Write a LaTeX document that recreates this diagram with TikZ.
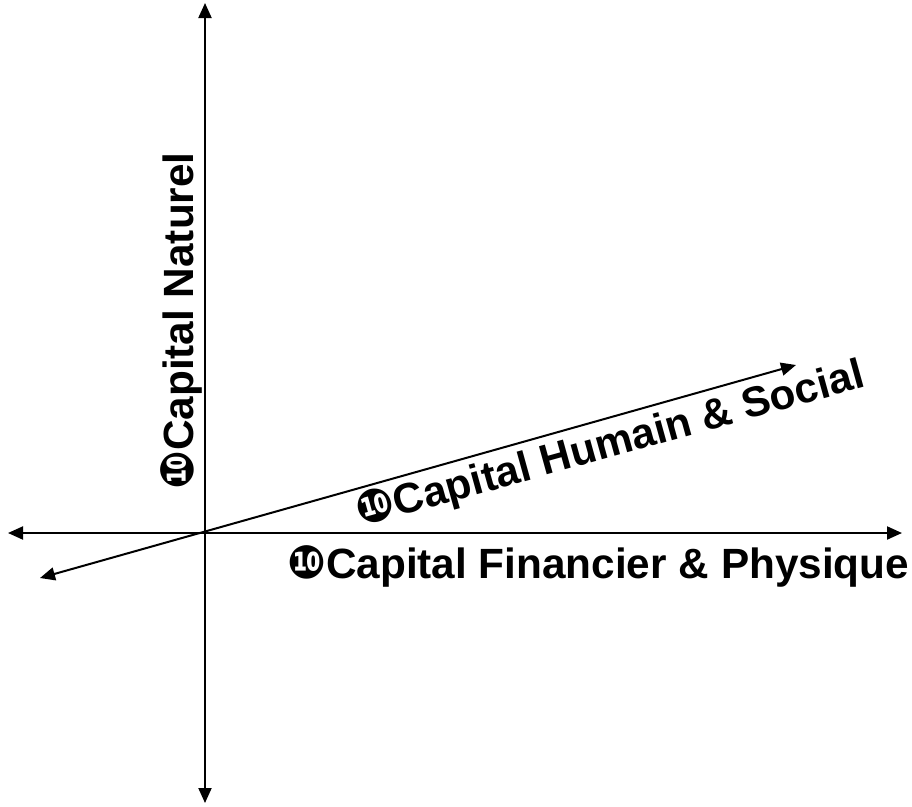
\documentclass[tikz,border=0pt]{standalone}
\usepackage{fontspec}
\setmainfont{Liberation Sans}
\newfontfamily\dingfont{DejaVu Sans}
\usetikzlibrary{arrows.meta}
\newcommand{\tenmark}{{\dingfont\fontsize{46}{50}\selectfont\char"277F}}
\begin{document}
\begin{tikzpicture}[x=1pt,y=-1pt,
  axis/.style={line width=2pt,{Triangle[length=15pt,width=13pt]}-{Triangle[length=15pt,width=13pt]}},
  axislabel/.style={inner sep=0pt,font=\bfseries\fontsize{42.3}{50}\selectfont}]
  \useasboundingbox (0,0) rectangle (912,806);
  % axis end points
  \coordinate (top) at (205,3);
  \coordinate (bottom) at (205,803);
  \coordinate (left) at (8,533);
  \coordinate (right) at (902,533);
  \coordinate (back) at (40,578);
  \coordinate (front) at (796,365);
  % the three axes
  \draw[axis] (bottom) -- (top);
  \draw[axis] (left) -- (right);
  \draw[axis] (back) -- (front);
  % axis labels
  \node[axislabel,anchor=base west] (fin) at (287,578) {\tenmark Capital Financier \& Physique};
  \node[axislabel,anchor=base west,rotate=90] (nat) at (193,490) {\tenmark Capital Naturel};
  \node[axislabel,anchor=base west,rotate=15.5] (hum) at (360,527) {\tenmark Capital Humain \& Social};
\end{tikzpicture}
\end{document}
